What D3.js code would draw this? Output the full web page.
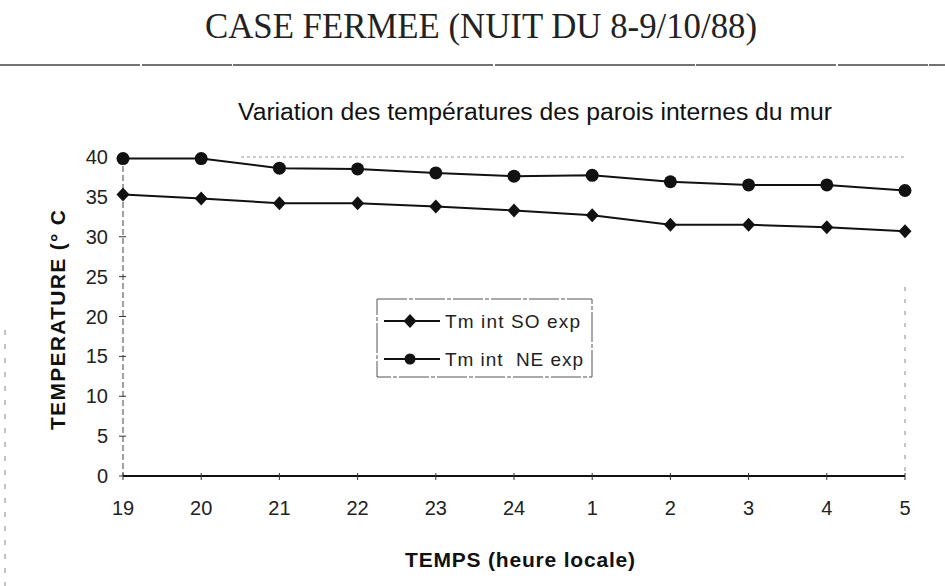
<!DOCTYPE html>
<html>
<head>
<meta charset="utf-8">
<script src="https://cdn.jsdelivr.net/npm/d3@7"></script>
<style>
  body { margin: 0; background: #fff; }
  svg { display: block; }
  .tick_labels { font-family: "Liberation Sans", Arial, sans-serif; font-size: 20px; fill: #222; }
  .axis_titles { font-family: "Liberation Sans", Arial, sans-serif; font-size: 21px; font-weight: bold; fill: #111; }
</style>
</head>
<body>
<svg id="chart" width="945" height="586"></svg>
<script>
var hours = ["19", "20", "21", "22", "23", "24", "1", "2", "3", "4", "5"];
var ne_values = [39.8, 39.8, 38.6, 38.5, 38.0, 37.6, 37.7, 36.9, 36.5, 36.5, 35.8];
var so_values = [35.3, 34.8, 34.2, 34.2, 33.8, 33.3, 32.7, 31.5, 31.5, 31.2, 30.7];
var y_ticks = [0, 5, 10, 15, 20, 25, 30, 35, 40];
var series_names = ["Tm int SO exp", "Tm int  NE exp"];

var svg = d3.select("#chart");
var x0 = 123, x1 = 905, y0 = 476, y1 = 157;

var xScale = d3.scalePoint()
               .domain(hours)
               .range([x0, x1]);
var yScale = d3.scaleLinear()
               .domain([0, 40])
               .range([y0, y1]);

// titles
svg.append("text")
    .text("CASE FERMEE (NUIT DU 8-9/10/88)")
    .attr("x", 481)
    .attr("y", 38)
    .attr("textLength", 552)
    .attr("lengthAdjust", "spacingAndGlyphs")
    .style("text-anchor", "middle")
    .style("font-family", "'Liberation Serif', 'Times New Roman', serif")
    .style("font-size", "36px")
    .style("fill", "#222");
svg.append("line")
    .attr("x1", 0).attr("x2", 945)
    .attr("y1", 65).attr("y2", 65)
    .style("stroke", "#444")
    .style("stroke-width", 1.5)
    .style("stroke-dasharray", "140,2,90,1,260,2,200,1");
svg.append("text")
    .text("Variation des températures des parois internes du mur")
    .attr("x", 535)
    .attr("y", 120)
    .attr("textLength", 594)
    .attr("lengthAdjust", "spacingAndGlyphs")
    .style("text-anchor", "middle")
    .style("font-family", "'Liberation Sans', Arial, sans-serif")
    .style("font-size", "23px")
    .style("fill", "#111");

// faint scan borders
svg.append("line")
    .attr("x1", 241).attr("x2", x1)
    .attr("y1", y1).attr("y2", y1)
    .style("stroke", "#999")
    .style("stroke-width", 1)
    .style("stroke-dasharray", "3,3");
svg.append("line")
    .attr("x1", x1).attr("x2", x1)
    .attr("y1", 287).attr("y2", y0)
    .style("stroke", "#888")
    .style("stroke-width", 1)
    .style("stroke-dasharray", "4,8");
svg.append("line")
    .attr("x1", 5).attr("x2", 5)
    .attr("y1", 330).attr("y2", 586)
    .style("stroke", "#888")
    .style("stroke-width", 1)
    .style("stroke-dasharray", "5,9");

// y axis
svg.append("line")
    .attr("x1", x0).attr("x2", x0)
    .attr("y1", y1).attr("y2", y0)
    .style("stroke", "#444")
    .style("stroke-width", 1)
    .style("stroke-dasharray", "6,3");
svg.selectAll("yTicks")
    .data(y_ticks)
    .enter()
    .append("line")
    .attr("x1", x0 - 4).attr("x2", x0 + 3)
    .attr("y1", function(d) { return yScale(d); })
    .attr("y2", function(d) { return yScale(d); })
    .style("stroke", "#333");
svg.selectAll("yLabels")
    .data(y_ticks)
    .enter()
    .append("text")
    .attr("class", "tick_labels")
    .attr("x", 108)
    .attr("y", function(d) { return yScale(d) + 7; })
    .text(function(d) { return d; })
    .style("text-anchor", "end");

// x axis
svg.append("line")
    .attr("x1", x0).attr("x2", x1)
    .attr("y1", y0).attr("y2", y0)
    .style("stroke", "#111")
    .style("stroke-width", 2);
svg.selectAll("xTicks")
    .data(hours)
    .enter()
    .append("line")
    .attr("x1", function(d) { return xScale(d); })
    .attr("x2", function(d) { return xScale(d); })
    .attr("y1", y0 - 3).attr("y2", y0 + 4)
    .style("stroke", "#333");
svg.selectAll("xLabels")
    .data(hours)
    .enter()
    .append("text")
    .attr("class", "tick_labels")
    .attr("x", function(d) { return xScale(d); })
    .attr("y", 515)
    .text(function(d) { return d; })
    .style("text-anchor", "middle");

// axis titles
svg.append("text")
    .attr("class", "axis_titles")
    .text("TEMPS (heure locale)")
    .attr("x", 520)
    .attr("y", 567)
    .attr("textLength", 230)
    .style("text-anchor", "middle");
svg.append("text")
    .attr("class", "axis_titles")
    .text("TEMPERATURE (° C")
    .attr("transform", "translate(65,320) rotate(-90)")
    .attr("textLength", 220)
    .style("text-anchor", "middle");

// lines
var line = d3.line()
             .x(function(d, i) { return xScale(hours[i]); })
             .y(function(d) { return yScale(d); });
svg.append("path")
    .datum(ne_values)
    .attr("d", line)
    .style("fill", "none")
    .style("stroke", "#111")
    .style("stroke-width", 2);
svg.append("path")
    .datum(so_values)
    .attr("d", line)
    .style("fill", "none")
    .style("stroke", "#111")
    .style("stroke-width", 2);

var diamond = "M0,-7L6.5,0L0,7L-6.5,0Z";
svg.selectAll("neDots")
    .data(ne_values)
    .enter()
    .append("circle")
    .attr("cx", function(d, i) { return xScale(hours[i]); })
    .attr("cy", function(d) { return yScale(d); })
    .attr("r", 6.5)
    .style("fill", "#111");
svg.selectAll("soDots")
    .data(so_values)
    .enter()
    .append("path")
    .attr("d", diamond)
    .attr("transform", function(d, i) {
      return "translate(" + xScale(hours[i]) + "," + yScale(d) + ")";
    })
    .style("fill", "#111");

// legend
svg.append("rect")
    .attr("x", 377).attr("y", 299)
    .attr("width", 215).attr("height", 78)
    .style("fill", "none")
    .style("stroke", "#555")
    .style("stroke-width", 1)
    .style("stroke-dasharray", "30,2,4,2");
svg.selectAll("legendLines")
    .data(series_names)
    .enter()
    .append("line")
    .attr("x1", 384).attr("x2", 440)
    .attr("y1", function(d, i) { return 321 + i * 38; })
    .attr("y2", function(d, i) { return 321 + i * 38; })
    .style("stroke", "#111")
    .style("stroke-width", 2);
svg.append("path")
    .attr("d", diamond)
    .attr("transform", "translate(410,321)")
    .style("fill", "#111");
svg.append("circle")
    .attr("cx", 410).attr("cy", 359)
    .attr("r", 5.5)
    .style("fill", "#111");
svg.selectAll("legendText")
    .data(series_names)
    .enter()
    .append("text")
    .attr("class", "tick_labels")
    .attr("x", 445)
    .attr("y", function(d, i) { return 328 + i * 38; })
    .attr("textLength", function(d, i) { return i == 0 ? 135 : 138; })
    .attr("xml:space", "preserve")
    .text(function(d) { return d; })
    .style("font-size", "19px");
</script>
</body>
</html>
